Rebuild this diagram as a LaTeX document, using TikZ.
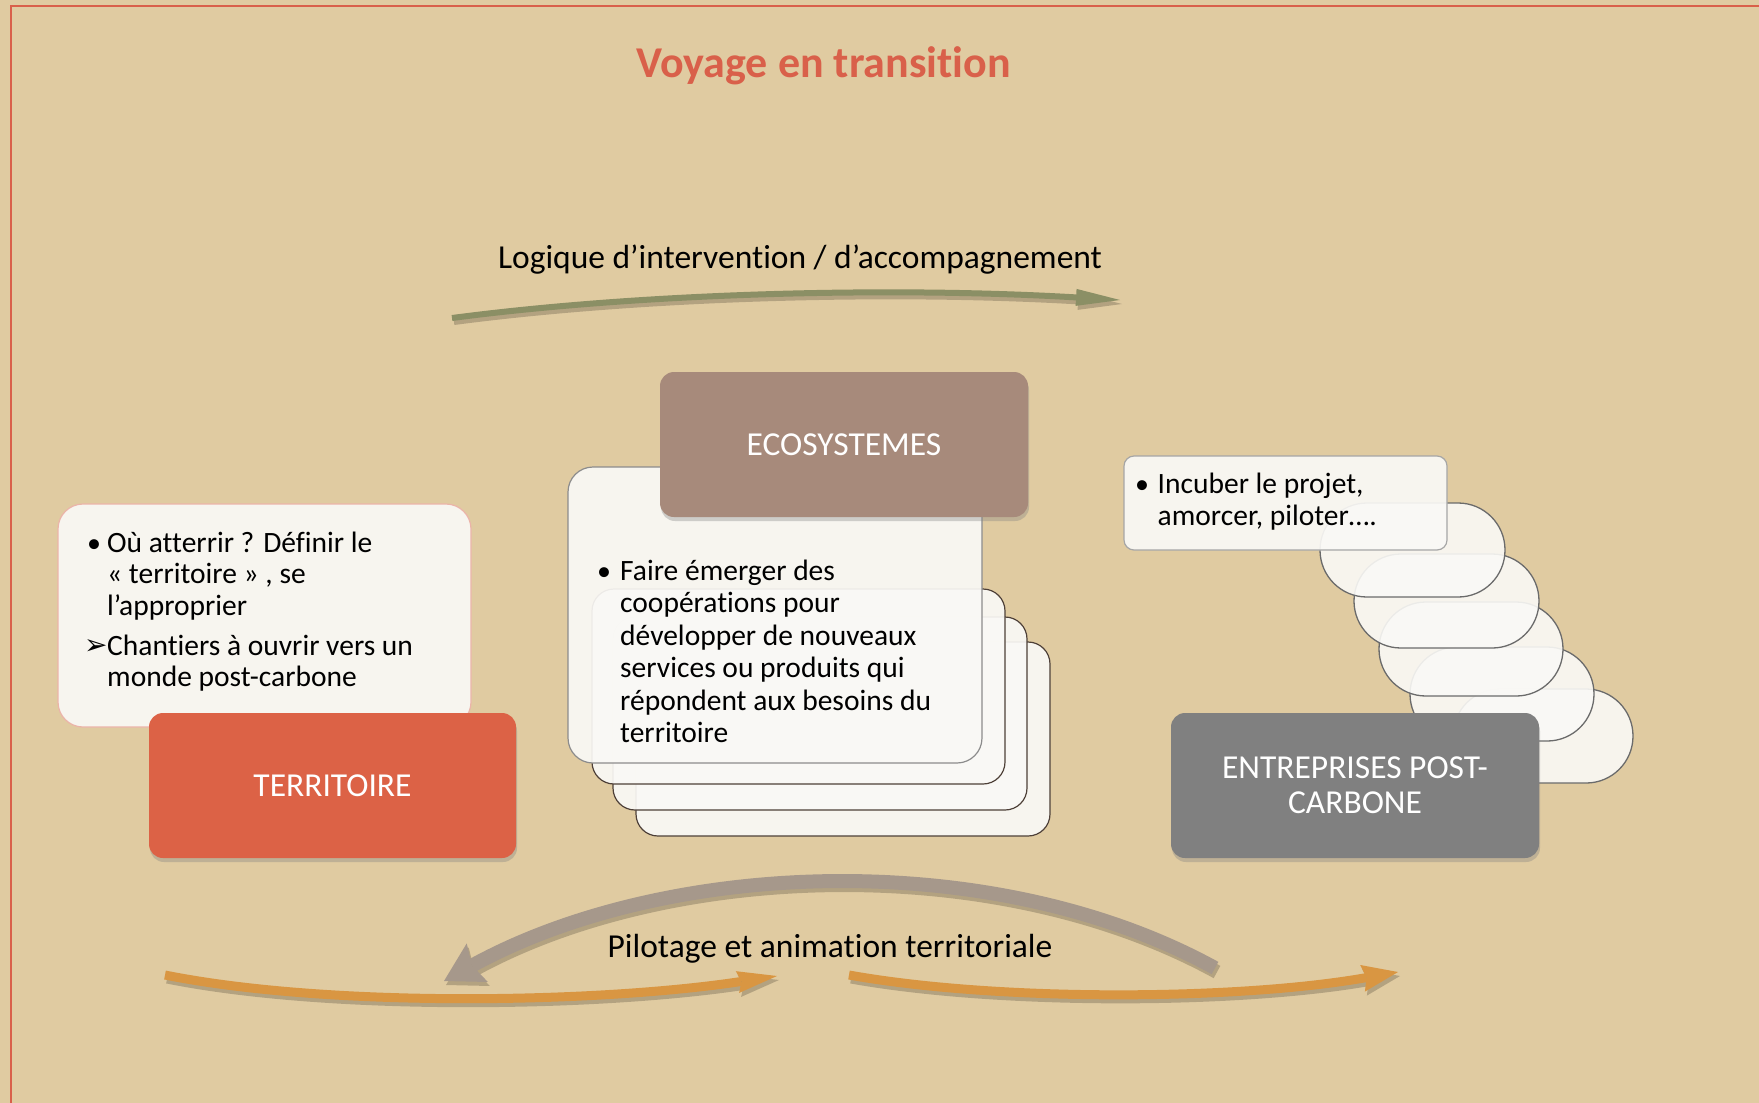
\documentclass[tikz,border=0pt]{standalone}
\usepackage{fontspec}
\setmainfont{Carlito}[Ligatures={NoCommon,NoRare,NoContextual}]
\newfontfamily\djv{DejaVu Sans}
\usetikzlibrary{shadows,arrows.meta}
\definecolor{bg}{HTML}{E0CBA1}
\definecolor{redframe}{HTML}{D9604A}
\definecolor{titlecol}{HTML}{D9604A}
\definecolor{terrcol}{HTML}{DC6246}
\definecolor{ecocol}{HTML}{A78A7B}
\definecolor{entcol}{HTML}{808080}
\definecolor{cardfill}{HTML}{FAF9F6}
\definecolor{greencol}{HTML}{8B8F65}
\definecolor{graycol}{HTML}{A6988B}
\definecolor{orangecol}{HTML}{D99642}
\definecolor{stackline}{HTML}{4E4038}
\newcommand\pathgreen{(gA) .. controls (650,292) and (900,287) .. (gB)}
\newcommand\pathgray{(yA) .. controls (993,846) and (666,859) .. (yB)}
\newcommand\pathorl{(oA) .. controls (330,1008) and (600,1003) .. (oB)}
\newcommand\pathorr{(pA) .. controls (1000,1002) and (1240,1000) .. (pB)}
\begin{document}
\begin{tikzpicture}[x=1pt,y=-1pt,
  box/.style={rounded corners=14pt, inner sep=0pt, outer sep=0pt, text=white,
    font=\fontsize{33.5}{35}\selectfont, align=center,
    drop shadow={shadow xshift=1pt, shadow yshift=-4pt, opacity=0.35}},
  card/.style={rounded corners=25pt, inner sep=0pt, outer sep=0pt, fill=cardfill,
    fill opacity=0.92, line width=1.2pt},
  pill/.style={rounded corners=46.9pt, inner sep=0pt, outer sep=0pt, fill=cardfill,
    fill opacity=0.9, draw=black!58, line width=1.3pt, minimum height=94pt},
  body/.style={font=\fontsize{29.5}{32.4}\selectfont, inner sep=0pt, anchor=base west},
  bul/.style={font=\fontsize{28}{28}\selectfont, inner sep=0pt, anchor=base west},
  label/.style={font=\fontsize{33.5}{35}\selectfont, inner sep=0pt, anchor=base},
  shade/.style={draw=black, opacity=0.2, transform canvas={shift={(2,4)}}}
]
\useasboundingbox (0,0) rectangle (1759,1103);
\fill[bg] (0,0) rectangle (1759,1103);
\draw[redframe, line width=2pt] (11,1103) -- (11,6) -- (1759,6);

% title
\node[font=\bfseries\fontsize{44}{46}\selectfont, text=titlecol, inner sep=0pt, anchor=base] (title) at (823.5,77) {Voyage en transition};

% top green arrow
\node[label] (logique) at (800,268) {Logique d’intervention / d’accompagnement};
\coordinate (gA) at (452,318);
\coordinate (gB) at (1120,300);
\draw[shade, line width=6pt, -{Triangle[length=44pt,width=17pt,line width=0pt]}] \pathgreen;
\draw[greencol, line width=6pt, -{Triangle[length=44pt,width=17pt,line width=0pt]}] \pathgreen;

% left block
\node[card, draw=redframe!45!cardfill, minimum width=413pt, minimum height=223pt] (lcard) at (264.5,615.5) {};
\node[box, fill=terrcol, minimum width=367pt, minimum height=145pt] (terr) at (332.5,785.5) {TERRITOIRE};
\node[bul] (t1b) at (87,552) {•};
\node[body] (t1) at (107,552) {Où atterrir ? Définir le};
\node[body] (t2) at (107,583) {« territoire » , se};
\node[body] (t3) at (107,615) {l’approprier};
\node[body, font=\djv\fontsize{28}{28}\selectfont] (t4b) at (84,654) {➢};
\node[body] (t4) at (107,655) {Chantiers à ouvrir vers un};
\node[body] (t5) at (107,686) {monde post-carbone};

% middle block
\node[card, rounded corners=22pt, draw=stackline, minimum width=414pt, minimum height=194pt] (card4) at (843,739) {};
\node[card, rounded corners=22pt, draw=stackline, minimum width=414pt, minimum height=193pt] (card3) at (820,713.5) {};
\node[card, rounded corners=22pt, draw=stackline, minimum width=413pt, minimum height=195pt] (card2) at (798.5,686.5) {};
\node[card, draw=black!45, minimum width=414pt, minimum height=296pt] (mcard) at (775,615) {};
\node[box, fill=ecocol, minimum width=368pt, minimum height=145pt] (eco) at (844,444.5) {ECOSYSTEMES};
\node[bul] (m0b) at (597,580) {•};
\node[body] (m1) at (620,580) {Faire émerger des};
\node[body] (m2) at (620,612) {coopérations pour};
\node[body] (m3) at (620,645) {développer de nouveaux};
\node[body] (m4) at (620,677) {services ou produits qui};
\node[body] (m5) at (620,710) {répondent aux besoins du};
\node[body] (m6) at (620,742) {territoire};

% right block
\node[pill, minimum width=180pt] (p5) at (1543,736) {};
\node[pill, minimum width=184pt] (p4) at (1502,694) {};
\node[pill, minimum width=184pt] (p3) at (1471,649) {};
\node[pill, minimum width=185pt] (p2) at (1446.5,601) {};
\node[pill, minimum width=185pt] (p1) at (1412.5,550) {};
\node[card, rounded corners=10pt, draw=black!35, minimum width=323pt, minimum height=94pt] (incub) at (1285.5,503) {};
\node[bul] (r0b) at (1135,493) {•};
\node[body] (r1) at (1157.5,493) {Incuber le projet,};
\node[body] (r2) at (1157.5,525) {amorcer, piloter….};
\node[box, fill=entcol, minimum width=368pt, minimum height=145pt] (ent) at (1355,785.5) {ENTREPRISES POST-\\[0pt]CARBONE};

% bottom arrows
\coordinate (yA) at (1215,968);
\coordinate (yB) at (444,981);
\coordinate (oA) at (165,975);
\coordinate (oB) at (777,976);
\coordinate (pA) at (849,975);
\coordinate (pB) at (1398,972);
\draw[shade, line width=14pt, -{Stealth[length=38pt,width=44pt,inset=6pt,line width=0pt]}] \pathgray;
\draw[graycol, line width=14pt, -{Stealth[length=38pt,width=44pt,inset=6pt,line width=0pt]}] \pathgray;
\draw[shade, line width=9pt, -{Stealth[length=40pt,width=22pt,inset=4pt,line width=0pt]}] \pathorl;
\draw[orangecol, line width=9pt, -{Stealth[length=40pt,width=22pt,inset=4pt,line width=0pt]}] \pathorl;
\draw[shade, line width=9pt, -{Stealth[length=36pt,width=27pt,inset=4pt,line width=0pt]}] \pathorr;
\draw[orangecol, line width=9pt, -{Stealth[length=36pt,width=27pt,inset=4pt,line width=0pt]}] \pathorr;
\node[label] (pilot) at (830,957) {Pilotage et animation territoriale};
\end{tikzpicture}
\end{document}
